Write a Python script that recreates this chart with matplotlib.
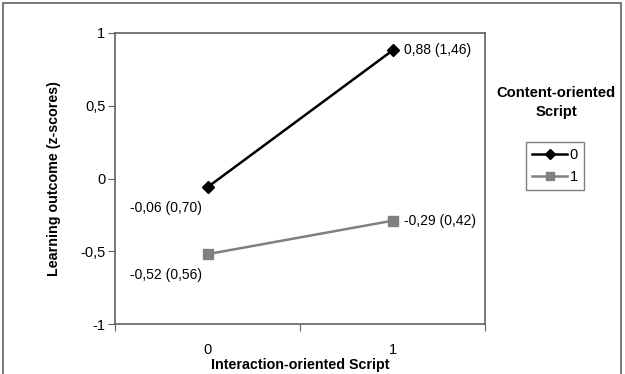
'''Interaction plot: learning outcome by script condition.'''
import matplotlib as mpl
mpl.use('Agg')
import matplotlib.pyplot as plt
from matplotlib.patches import Rectangle

plt.rcParams['font.family'] = ['Liberation Sans', 'DejaVu Sans']

x_cats = [0, 1]
x_labels = ['0', '1']
series_names = ['0', '1']
means_0 = [-0.06, 0.88]
means_1 = [-0.52, -0.29]
sds_0 = [0.70, 1.46]
sds_1 = [0.56, 0.42]
y_ticks = [-1, -0.5, 0, 0.5, 1]
y_tick_labels = ['-1', '-0,5', '0', '0,5', '1']


def fmt(v):
    '''Format with comma decimal.'''
    return f'{v:.2f}'.replace('.', ',')


fig = plt.figure(figsize=(6.25, 3.74), dpi=100)
ax = fig.add_axes([115 / 625, 1 - 324 / 374, 370 / 625, 291 / 374])

l0, = ax.plot(x_cats, means_0, color='black', lw=1.8, marker='D', ms=6,
              label=series_names[0])
l1, = ax.plot(x_cats, means_1, color='#808080', lw=1.8, marker='s', ms=7,
              label=series_names[1])

ax.set_xlim(-0.5, 1.5)
ax.set_ylim(-1, 1)
ax.set_yticks(y_ticks)
ax.set_yticklabels(y_tick_labels)
ax.set_xticks([-0.5, 0.5, 1.5])
ax.set_xticklabels([])
ax.set_xticks(x_cats, minor=True)
ax.set_xticklabels(x_labels, minor=True)
ax.tick_params(axis='x', which='minor', length=0, pad=14, labelsize=10.5)
ax.tick_params(axis='x', which='major', length=5, color='#606060')
ax.tick_params(axis='y', length=5, color='#606060', labelsize=10.5, pad=2)
for s in ax.spines.values():
    s.set_color('#606060')
    s.set_linewidth(1.2)

ax.set_ylabel('Learning outcome (z-scores)', fontsize=10.3, fontweight='bold',
              labelpad=14)

# value labels: mean (sd)
for xs, ms, ss in [(x_cats, means_0, sds_0), (x_cats, means_1, sds_1)]:
    for x, m, s in zip(xs, ms, ss):
        txt = f'{fmt(m)} ({fmt(s)})'
        if x == 0:
            ax.annotate(txt, (x, m), xytext=(-78, -21), textcoords='offset pixels',
                        fontsize=10, va='center', ha='left')
        else:
            ax.annotate(txt, (x, m), xytext=(11, 0), textcoords='offset pixels',
                        fontsize=10, va='center', ha='left')

fig.text(556 / 625, 1 - 93 / 374, 'Content-oriented', fontsize=10.6,
         fontweight='bold', ha='center', va='center')
fig.text(556 / 625, 1 - 112 / 374, 'Script', fontsize=10.6,
         fontweight='bold', ha='center', va='center')

leg = fig.legend(handles=[l0, l1], loc='center', fontsize=10.5,
                 bbox_to_anchor=(555 / 625, 1 - 166 / 374), frameon=True,
                 fancybox=False, edgecolor='#606060', handlelength=2.4,
                 handletextpad=0.15, borderpad=0.4, labelspacing=0.55,
                 markerscale=0.8, borderaxespad=0)
leg.get_frame().set_linewidth(1.0)

fig.text(300 / 625, 1 - 365 / 374, 'Interaction-oriented Script', fontsize=10.3,
         fontweight='bold', ha='center', va='center')

fig.patches.append(Rectangle((3 / 625, -0.1), 618 / 625, 1.1 - 3 / 374,
                             transform=fig.transFigure, fill=False,
                             edgecolor='#606060', lw=1.2))

fig.savefig('out.png', dpi=100)
